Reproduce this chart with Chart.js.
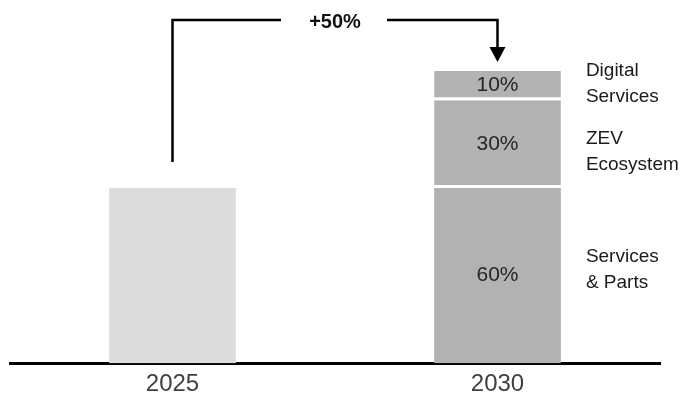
<!DOCTYPE html>
<html>
<head>
<meta charset="utf-8">
<title>Revenue mix 2025 vs 2030</title>
<script src="https://cdn.jsdelivr.net/npm/chart.js@4/dist/chart.umd.min.js"></script>
<style>
  html, body { margin: 0; padding: 0; background: #ffffff; }
  canvas { display: block; }
</style>
</head>
<body>
<canvas id="chart" width="689" height="401"></canvas>
<script>
// Years on the x axis
const categories = ['2025', '2030'];

// 2025 total (same scale as the 2030 stack, which sums to 100)
const total2025 = [60, null];

// 2030 revenue split by business line (share of 2030 total, %)
const servicesParts = [null, 60];
const zevEcosystem = [null, 30];
const digitalServices = [null, 10];

// Names written to the right of the 2030 stack (bottom to top)
const segmentNames = [['Services', '& Parts'], ['ZEV', 'Ecosystem'], ['Digital', 'Services']];

// Growth callout between the two years
const growthLabel = '+50%';

const FONT = "'Liberation Sans', Arial, Helvetica, sans-serif";
const SEGMENT_GREY = '#b2b2b2';

// Percent labels inside the 2030 segments and names beside them
const segmentLabels = {
  id: 'segmentLabels',
  afterDatasetsDraw(chart) {
    const ctx = chart.ctx;
    const nameOffsets = [-6, 8, -2];
    ctx.save();
    [1, 2, 3].forEach((dsIndex, i) => {
      const ds = chart.data.datasets[dsIndex];
      const el = chart.getDatasetMeta(dsIndex).data[1];
      const value = ds.data[1];
      const cy = (el.y + el.base) / 2;
      ctx.font = '21px ' + FONT;
      ctx.fillStyle = '#262626';
      ctx.textAlign = 'center';
      ctx.textBaseline = 'middle';
      ctx.fillText(value + '%', el.x, cy);

      ctx.font = '19px ' + FONT;
      ctx.fillStyle = '#1a1a1a';
      ctx.textAlign = 'left';
      const lines = segmentNames[i];
      const lh = 26;
      const startY = cy + nameOffsets[i] - (lines.length - 1) * lh / 2;
      lines.forEach((line, k) => {
        ctx.fillText(line, el.x + el.width / 2 + 25, startY + k * lh);
      });
    });
    ctx.restore();
  }
};

// Elbow arrow from the 2025 bar to the top of the 2030 stack
const growthArrow = {
  id: 'growthArrow',
  afterDraw(chart) {
    const ctx = chart.ctx;
    const xs = chart.scales.x;
    const ys = chart.scales.y;
    const x1 = xs.getPixelForValue(0);
    const x2 = xs.getPixelForValue(1);
    const top1 = ys.getPixelForValue(total2025[0]);
    const top2 = ys.getPixelForValue(servicesParts[1] + zevEcosystem[1] + digitalServices[1]);
    const lineY = 20;
    const mid = (x1 + x2) / 2;
    ctx.save();
    ctx.strokeStyle = '#000';
    ctx.lineWidth = 2.5;
    ctx.lineCap = 'butt';
    ctx.lineJoin = 'miter';
    ctx.beginPath();
    ctx.moveTo(x1, top1 - 26);
    ctx.lineTo(x1, lineY);
    ctx.lineTo(mid - 54, lineY);
    ctx.stroke();
    ctx.beginPath();
    ctx.moveTo(mid + 52, lineY);
    ctx.lineTo(x2, lineY);
    ctx.lineTo(x2, top2 - 22);
    ctx.stroke();
    // arrow head
    ctx.fillStyle = '#000';
    ctx.beginPath();
    ctx.moveTo(x2 - 8, top2 - 24);
    ctx.lineTo(x2 + 8, top2 - 24);
    ctx.lineTo(x2, top2 - 9);
    ctx.closePath();
    ctx.fill();

    ctx.font = 'bold 20px ' + FONT;
    ctx.fillStyle = '#111';
    ctx.textAlign = 'center';
    ctx.textBaseline = 'middle';
    ctx.fillText(growthLabel, mid, lineY + 2);
    ctx.restore();
  }
};

const separator = { bottom: 3 };

new Chart(document.getElementById('chart'), {
  type: 'bar',
  data: {
    labels: categories,
    datasets: [
      { label: '2025', data: total2025, backgroundColor: '#dcdcdc', borderWidth: 0 },
      { label: 'Services & Parts', data: servicesParts, backgroundColor: SEGMENT_GREY, borderWidth: 0 },
      { label: 'ZEV Ecosystem', data: zevEcosystem, backgroundColor: SEGMENT_GREY,
        borderColor: '#ffffff', borderWidth: separator, borderSkipped: false },
      { label: 'Digital Services', data: digitalServices, backgroundColor: SEGMENT_GREY,
        borderColor: '#ffffff', borderWidth: separator, borderSkipped: false }
    ]
  },
  options: {
    responsive: false,
    animation: false,
    devicePixelRatio: 1,
    barPercentage: 0.39,
    categoryPercentage: 1,
    layout: { padding: { left: 10, right: 29, top: 71, bottom: -5 } },
    plugins: {
      legend: { display: false },
      tooltip: { enabled: false }
    },
    scales: {
      x: {
        stacked: true,
        grid: { display: false, drawTicks: false },
        border: { display: true, color: '#000', width: 3 },
        ticks: { color: '#404040', padding: 7, font: { family: FONT, size: 24 } }
      },
      y: {
        stacked: true,
        display: false,
        min: 0,
        max: 100
      }
    }
  },
  plugins: [segmentLabels, growthArrow]
});
</script>
</body>
</html>
